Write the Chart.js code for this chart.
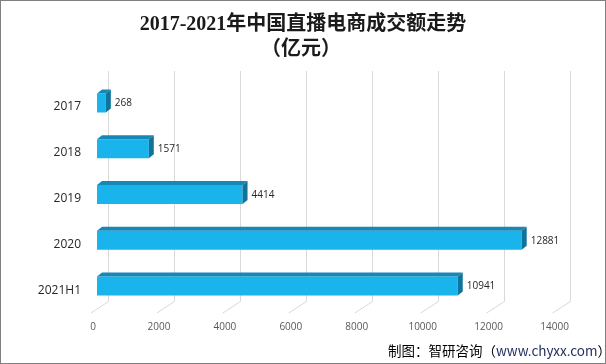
<!DOCTYPE html>
<html>
<head>
<meta charset="utf-8">
<script src="https://cdn.jsdelivr.net/npm/chart.js@4"></script>
<style>
  html, body { margin: 0; padding: 0; background: #fff; }
</style>
</head>
<body>
<canvas id="liveChart" width="606" height="364"></canvas>
<script>
const categories = ['2017', '2018', '2019', '2020', '2021H1'];
const amounts = [268, 1571, 4414, 12881, 10941];
const xTicks = [0, 2000, 4000, 6000, 8000, 10000, 12000, 14000];

const titleLines = ['2017-2021年中国直播电商成交额走势', '（亿元）'];
const sourceNote = '制图：智研咨询（';
const sourceUrl = 'www.chyxx.com';

// depth of the fake 3d bars
const depthX = 5;
const depthY = 4;

// back wall grid + floor lines, drawn under the bars
const wallGrid = {
    id: 'wallGrid',
    beforeDatasetsDraw(chart) {
        const ctx = chart.ctx;
        const xs = chart.scales.x;
        ctx.save();
        ctx.strokeStyle = '#d9d9d9';
        ctx.lineWidth = 1;
        xTicks.forEach(v => {
            const px = xs.getPixelForValue(v);
            ctx.beginPath();
            ctx.moveTo(Math.round(px + 11.3) + 0.5, 71);
            ctx.lineTo(Math.round(px + 11.3) + 0.5, 301.5);
            ctx.lineTo(px - 6, 313);
            ctx.stroke();
        });
        ctx.restore();
    }
};

// top + side faces and the value labels
const bars3d = {
    id: 'bars3d',
    afterDatasetsDraw(chart) {
        const ctx = chart.ctx;
        const meta = chart.getDatasetMeta(0);
        ctx.save();
        meta.data.forEach((bar, i) => {
            const top = bar.y - bar.height / 2;
            const bottom = bar.y + bar.height / 2;
            const left = bar.base;
            const right = bar.x;

            ctx.fillStyle = '#1688b7';
            ctx.beginPath();
            ctx.moveTo(left, top);
            ctx.lineTo(left + depthX, top - depthY);
            ctx.lineTo(right + depthX, top - depthY);
            ctx.lineTo(right, top);
            ctx.closePath();
            ctx.fill();

            ctx.fillStyle = '#10739b';
            ctx.beginPath();
            ctx.moveTo(right, top);
            ctx.lineTo(right + depthX, top - depthY);
            ctx.lineTo(right + depthX, bottom - depthY);
            ctx.lineTo(right, bottom);
            ctx.closePath();
            ctx.fill();

            ctx.fillStyle = '#262626';
            ctx.font = '10px "Open Sans"';
            ctx.textAlign = 'left';
            ctx.textBaseline = 'middle';
            ctx.fillText(String(amounts[i]), right + 9, bar.y + 0.5);
        });
        ctx.restore();
    }
};

// title, source line and the outer frame
const texts = {
    id: 'texts',
    afterDraw(chart) {
        const ctx = chart.ctx;
        ctx.save();
        ctx.fillStyle = '#1a1a1a';
        ctx.textAlign = 'center';
        ctx.textBaseline = 'middle';
        ctx.font = 'bold 20px "Liberation Serif", "Noto Sans CJK SC"';
        ctx.fillText(titleLines[0], 303, 25);
        ctx.fillText(titleLines[1], 301, 50);

        ctx.font = '13.5px "Noto Sans CJK SC"';
        ctx.textAlign = 'right';
        let x = 611;
        const y = 351;
        ctx.fillStyle = '#000';
        ctx.fillText('）', x, y);
        x -= ctx.measureText('）').width;
        ctx.fillStyle = '#1f2a5c';
        ctx.fillText(sourceUrl, x, y);
        x -= ctx.measureText(sourceUrl).width;
        ctx.fillStyle = '#000';
        ctx.fillText(sourceNote, x, y);

        ctx.strokeStyle = '#808080';
        ctx.lineWidth = 1;
        ctx.strokeRect(0.5, 0.5, 605, 363);
        ctx.restore();
    }
};

const whiteBg = {
    id: 'whiteBg',
    beforeDraw(chart) {
        const ctx = chart.ctx;
        ctx.save();
        ctx.fillStyle = '#fff';
        ctx.fillRect(0, 0, chart.width, chart.height);
        ctx.restore();
    }
};

const liveChart = new Chart('liveChart', {
    type: 'bar',
    data: {
        labels: categories,
        datasets: [
            {
                label: '成交额',
                data: amounts,
                backgroundColor: '#1ab4ed',
                borderWidth: 0,
                barPercentage: 0.414,
                categoryPercentage: 1
            }
        ]
    },
    options: {
        indexAxis: 'y',
        responsive: false,
        devicePixelRatio: 1,
        animation: false,
        layout: {
            padding: { left: 0, right: 47.4, top: 80, bottom: 0 }
        },
        plugins: {
            legend: { display: false },
            tooltip: { enabled: false },
            title: { display: false }
        },
        scales: {
            x: {
                min: 0,
                max: 14000,
                afterBuildTicks: (axis) => {
                    axis.ticks = xTicks.map(v => ({ value: v }));
                },
                afterFit: (axis) => { axis.height = 55; },
                ticks: {
                    color: '#595959',
                    font: { family: '"Open Sans"', size: 10 },
                    padding: 12.5,
                    labelOffset: -4,
                    maxRotation: 0,
                    callback: (v) => String(v)
                },
                grid: { display: false, drawTicks: false },
                border: { display: false }
            },
            y: {
                afterFit: (axis) => { axis.width = 97; },
                ticks: {
                    color: '#262626',
                    font: { family: '"Open Sans"', size: 12 },
                    padding: 16,
                    labelOffset: 4
                },
                grid: { display: false, drawTicks: false },
                border: { display: false }
            }
        }
    },
    plugins: [whiteBg, wallGrid, bars3d, texts]
});
</script>
</body>
</html>
